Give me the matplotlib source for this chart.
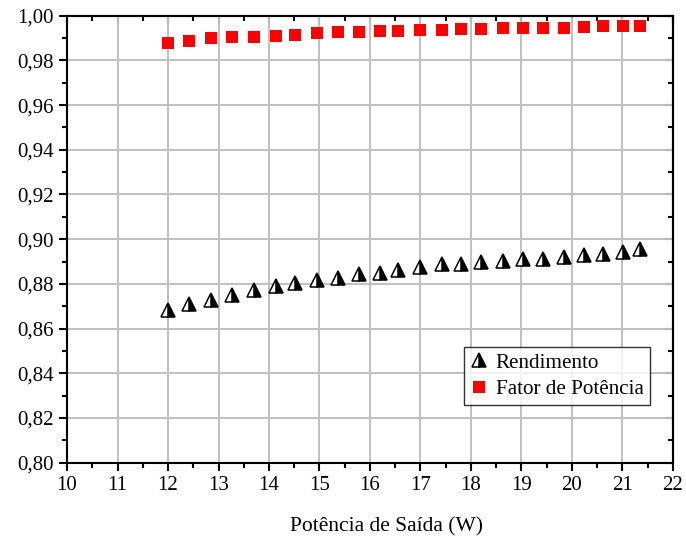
import matplotlib
matplotlib.use('Agg')
import matplotlib.pyplot as plt
from matplotlib.ticker import FuncFormatter, MultipleLocator

plt.rcParams['font.family'] = ['Liberation Serif', 'DejaVu Serif']

# Potência de saída (W)
potencia = [12.00, 12.42, 12.85, 13.27, 13.71, 14.14, 14.51, 14.95, 15.37, 15.78,
            16.19, 16.56, 16.99, 17.43, 17.80, 18.20, 18.64, 19.04, 19.43, 19.84,
            20.24, 20.62, 21.01, 21.35]

rendimento = [0.8685, 0.8711, 0.8728, 0.8750, 0.8773, 0.8792, 0.8803, 0.8817,
              0.8825, 0.8843, 0.8850, 0.8862, 0.8874, 0.8888, 0.8888, 0.8899,
              0.8904, 0.8910, 0.8913, 0.8922, 0.8929, 0.8932, 0.8944, 0.8955]

fator_potencia = [0.9878, 0.9887, 0.9899, 0.9905, 0.9905, 0.9910, 0.9914, 0.9922,
                  0.9926, 0.9926, 0.9933, 0.9932, 0.9935, 0.9937, 0.9939, 0.9942,
                  0.9946, 0.9945, 0.9946, 0.9946, 0.9951, 0.9955, 0.9955, 0.9953]

fig = plt.figure(figsize=(6.86, 5.39), dpi=100)
ax = fig.add_axes([0.0977, 0.1416, 0.8833, 0.8293])

ax.plot(potencia, rendimento, linestyle='none', marker='^', markersize=9.8,
        fillstyle='right', markerfacecolor='black', markerfacecoloralt='white',
        markeredgecolor='black', markeredgewidth=1.1, label='Rendimento', zorder=3)
ax.plot(potencia, fator_potencia, linestyle='none', marker='s', markersize=8.6,
        color='#ff0000', markeredgewidth=0, label='Fator de Potência', zorder=3)

ax.set_xlim(10, 22)
ax.set_ylim(0.80, 1.00)
ax.xaxis.set_major_locator(MultipleLocator(1))
ax.xaxis.set_minor_locator(MultipleLocator(0.5))
ax.yaxis.set_major_locator(MultipleLocator(0.02))
ax.yaxis.set_minor_locator(MultipleLocator(0.01))
ax.yaxis.set_major_formatter(FuncFormatter(lambda v, p: f'{v:.2f}'.replace('.', ',')))

ax.grid(True, which='major', color='#c0c0c0', linewidth=1.4)
ax.set_axisbelow(True)

for s in ax.spines.values():
    s.set_linewidth(1.5)

ax.tick_params(which='both', direction='out', width=1.5, labelsize=15,
               top=False, right=False)
ax.tick_params(which='major', length=6)
ax.tick_params(which='minor', length=3.5)

# ticks internos nos eixos superior e direito
sec_x = ax.secondary_xaxis('top')
sec_x.xaxis.set_major_locator(MultipleLocator(1))
sec_x.xaxis.set_minor_locator(MultipleLocator(0.5))
sec_x.tick_params(which='both', direction='in', width=1.5, labeltop=False)
sec_x.tick_params(which='major', length=6)
sec_x.tick_params(which='minor', length=3.5)
sec_y = ax.secondary_yaxis('right')
sec_y.yaxis.set_major_locator(MultipleLocator(0.02))
sec_y.yaxis.set_minor_locator(MultipleLocator(0.01))
sec_y.tick_params(which='both', direction='in', width=1.5, labelright=False)
sec_y.tick_params(which='major', length=6)
sec_y.tick_params(which='minor', length=3.5)
sec_x.spines['top'].set_linewidth(1.5)
sec_y.spines['right'].set_linewidth(1.5)

ax.set_xlabel('Potência de Saída (W)', fontsize=15.5)
ax.xaxis.set_label_coords(0.528, -0.123)

leg = ax.legend(loc='upper left', bbox_to_anchor=(0.655, 0.2595), borderaxespad=0,
                fontsize=15.2, frameon=True, fancybox=False, edgecolor='black',
                handlelength=0.8, handletextpad=0.4, borderpad=0.3, labelspacing=0.3)
leg.get_frame().set_linewidth(1.0)

fig.savefig('out.png', dpi=100)
